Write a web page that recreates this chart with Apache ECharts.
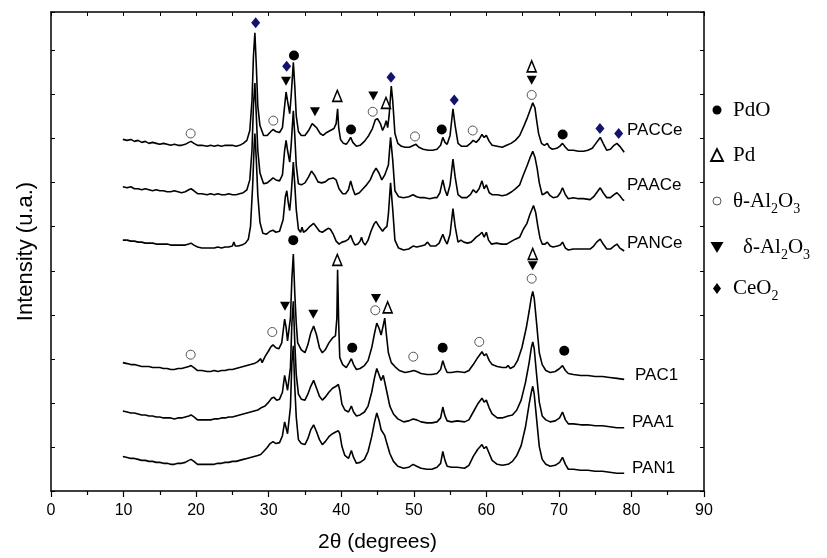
<!DOCTYPE html>
<html>
<head>
<meta charset="utf-8">
<script src="https://cdn.jsdelivr.net/npm/echarts@6/dist/echarts.min.js"></script>
<style>html,body{margin:0;padding:0;background:#fff}#c{width:827px;height:558px}</style>
</head>
<body>
<div id="c"></div>
<script>
// x tick labels (2θ, degrees)
var xTicks = [0,10,20,30,40,50,60,70,80,90];
var sampleNames = ['PACCe','PAACe','PANCe','PAC1','PAA1','PAN1'];

// Diffractograms: [2θ, intensity (a.u., stacked as plotted)]
var PACCe = [[9.9,356],[10.5,355],[11,356],[11.5,354],[12,355],[12.5,353],[13,354],[13.5,352],[14,353],[14.5,352],[15,351],[15.5,352],[16,351],[16.5,350],[17,351],[17.5,350],[18,350],[18.5,351],[19,353],[19.3,354],[19.7,352],[20.2,350],[20.8,350],[21.5,349],[22,350],[22.5,349],[23,350],[23.5,349],[24,350],[24.5,350],[25,350],[25.5,349],[26,350],[26.5,352],[27,355],[27.4,365],[27.7,395],[27.9,440],[28.1,464],[28.3,430],[28.5,390],[28.8,370],[29.3,360],[29.8,360],[30.3,364],[30.6,366],[31,364],[31.5,363],[31.9,368],[32.2,390],[32.4,404],[32.6,395],[32.9,382],[33.1,400],[33.4,434],[33.6,410],[33.8,380],[34.1,364],[34.5,360],[35,360],[35.5,365],[36,372],[36.2,373],[36.6,368],[37.1,362],[37.5,360],[38,363],[38.5,365],[39,367],[39.3,372],[39.5,387],[39.65,368],[39.9,356],[40.3,352],[40.7,351],[41,354],[41.3,358],[41.6,353],[42.1,349],[42.6,350],[43.2,354],[43.8,360],[44.3,367],[44.7,376],[45,377],[45.4,372],[45.7,365],[46,370],[46.2,375],[46.4,368],[46.6,380],[46.9,410],[47.1,395],[47.4,362],[47.8,352],[48.3,349],[48.8,348],[49.4,348],[50,350],[50.3,351],[50.7,348],[51.3,346],[52,345],[52.6,345],[53.2,346],[53.7,350],[54,358],[54.3,353],[54.6,351],[55,360],[55.4,387],[55.7,370],[56.1,352],[56.6,349],[57.3,349],[57.8,352],[58.2,355],[58.6,353],[59,356],[59.4,361],[59.7,358],[60,360],[60.4,354],[60.8,350],[61.5,349],[62.2,348],[62.8,350],[63.4,352],[64,355],[64.6,360],[65.2,370],[65.6,377],[66,385],[66.4,393],[66.7,388],[66.9,377],[67.2,362],[67.6,352],[68,350],[68.4,352],[68.7,348],[69.1,346],[69.7,347],[70.1,349],[70.5,352],[70.9,348],[71.3,345],[72,345],[72.7,344],[73.4,344],[74,345],[74.6,347],[75.1,352],[75.7,358],[76.1,352],[76.6,345],[77.1,346],[77.6,350],[78,352],[78.4,349],[78.8,345],[79,343]];
var PAACe = [[9.9,308],[10.5,307],[11,308],[11.5,306],[12,306],[12.5,305],[13,306],[13.5,305],[14,304],[14.5,305],[15,304],[15.5,304],[16,303],[16.5,303],[17,304],[17.5,303],[18,302],[18.5,303],[19,305],[19.3,306],[19.7,304],[20.2,301],[20.8,301],[21.5,300],[22,301],[22.5,300],[23,301],[23.5,300],[24,300],[24.5,301],[25,300],[25.5,300],[26,301],[26.5,302],[27,305],[27.4,315],[27.7,345],[27.9,390],[28.1,413],[28.3,380],[28.5,345],[28.8,322],[29.3,311],[29.8,312],[30.3,315],[30.6,317],[31,315],[31.5,314],[31.9,320],[32.2,345],[32.4,355],[32.6,345],[32.9,333],[33.1,350],[33.4,385],[33.6,360],[33.8,330],[34.1,311],[34.5,310],[35,312],[35.5,318],[35.9,324],[36.3,320],[36.8,313],[37.3,312],[37.8,313],[38.3,316],[38.9,317],[39.3,315],[39.7,306],[40.2,301],[40.6,301],[41,305],[41.3,314],[41.6,306],[41.9,300],[42.5,302],[43,306],[43.5,310],[44,315],[44.4,322],[44.8,327],[45.2,322],[45.6,315],[46,320],[46.2,318],[46.5,330],[46.8,358],[47.1,335],[47.4,304],[47.9,298],[48.6,297],[49.3,298],[49.9,300],[50.4,298],[50.9,297],[51.5,297],[52.2,296],[52.8,297],[53.2,297],[53.6,302],[54,315],[54.3,305],[54.6,299],[55,310],[55.4,336],[55.7,318],[56.1,300],[56.6,297],[57.3,297],[57.8,300],[58.2,305],[58.6,302],[59,306],[59.4,314],[59.7,306],[60,310],[60.4,302],[60.8,300],[61.5,300],[62.2,299],[62.8,300],[63.5,303],[64,306],[64.6,310],[65.1,320],[65.6,329],[66,337],[66.4,344],[66.7,338],[67,327],[67.3,312],[67.7,300],[68,301],[68.4,303],[68.8,299],[69.2,297],[69.8,298],[70.2,302],[70.5,307],[70.9,300],[71.3,296],[72,297],[72.7,296],[73.4,296],[74.3,295],[74.8,298],[75.2,302],[75.7,307],[76.1,302],[76.6,297],[77.1,297],[77.6,300],[78,302],[78.4,299],[78.8,295],[79,294]];
var PANCe = [[9.9,254],[10.5,254],[11,253],[11.5,253],[12,252],[12.5,252],[13,251],[13.5,251],[14,251],[14.5,250],[15,250],[15.5,250],[16,250],[16.5,249],[17,249],[17.5,249],[18,249],[18.5,249],[19,250],[19.3,251],[19.7,249],[20.2,247],[20.8,246],[21.5,246],[22,246],[22.5,246],[23,247],[23.5,246],[24,247],[24.5,247],[25,248],[25.2,252],[25.4,248],[25.8,248],[26.3,249],[26.8,251],[27.2,255],[27.5,268],[27.8,310],[28,350],[28.1,362],[28.3,335],[28.5,300],[28.8,272],[29.2,261],[29.7,260],[30.2,263],[30.6,264],[31,262],[31.5,263],[32,275],[32.3,298],[32.5,304],[32.7,292],[32.9,284],[33.1,300],[33.4,333],[33.6,310],[33.8,285],[34.1,265],[34.4,262],[34.6,267],[34.8,262],[35.2,264],[35.7,268],[36.2,271],[36.6,267],[37,263],[37.4,262],[37.8,264],[38.2,266],[38.5,265],[38.9,260],[39.3,253],[39.7,250],[40.1,252],[40.6,253],[41,255],[41.3,259],[41.6,253],[41.9,249],[42.3,250],[42.6,253],[42.8,257],[43,252],[43.3,249],[43.7,254],[44.1,263],[44.5,270],[44.8,273],[45.2,268],[45.7,263],[46,266],[46.3,268],[46.5,280],[46.8,312],[47.1,285],[47.4,254],[47.9,246],[48.6,244],[49.3,245],[49.9,248],[50.4,247],[51,248],[51.5,249],[51.9,252],[52.3,248],[53,248],[53.5,251],[54,260],[54.3,254],[54.6,250],[55,260],[55.4,286],[55.7,268],[56.1,252],[56.5,254],[56.7,256],[56.9,252],[57.4,251],[57.9,252],[58.2,254],[58.6,257],[59,259],[59.4,262],[59.7,257],[60,262],[60.3,254],[60.7,250],[61.4,251],[62.1,250],[62.8,250],[63.5,253],[64,255],[64.6,257],[65.1,265],[65.6,271],[66,280],[66.5,289],[66.8,282],[67.1,268],[67.4,256],[67.7,250],[68.1,250],[68.4,252],[68.8,248],[69.2,247],[69.8,248],[70.2,249],[70.5,252],[70.9,246],[71.3,244],[72,245],[72.7,245],[73.4,245],[74.3,245],[74.8,248],[75.2,252],[75.7,255],[76.1,250],[76.6,245],[77.1,245],[77.6,248],[78,250],[78.4,246],[78.8,244],[79,243]];
var PAC1 = [[9.9,130],[10.5,129],[11,128],[11.5,128],[12,127],[12.5,126],[13,126],[13.5,126],[14,125],[14.5,125],[15,125],[15.5,124],[16,124],[16.5,123],[17,123],[17.5,124],[18,124],[18.5,125],[19,126],[19.3,127],[19.7,125],[20.2,122],[20.8,122],[21.5,121],[22,121],[22.5,122],[23,121],[23.5,122],[24,122],[24.5,123],[25,123],[25.5,124],[26,125],[26.5,126],[27,127],[27.5,128],[28,129],[28.5,131],[28.9,134],[29.1,130],[29.5,136],[30,142],[30.3,146],[30.6,148],[31,145],[31.4,144],[31.8,150],[32,162],[32.2,174],[32.4,166],[32.6,152],[32.8,150],[33,175],[33.2,215],[33.4,240],[33.6,200],[33.8,170],[34,150],[34.5,143],[35,140],[35.4,148],[35.8,160],[36.2,167],[36.6,158],[37,145],[37.4,140],[37.8,143],[38.3,150],[38.8,155],[39.2,157],[39.4,175],[39.5,224],[39.65,170],[39.8,135],[40.2,128],[40.7,125],[41.1,130],[41.4,134],[41.7,128],[42.1,123],[42.6,124],[43.2,127],[43.7,132],[44.2,145],[44.6,160],[44.9,170],[45.2,165],[45.5,158],[45.8,168],[46,175],[46.2,160],[46.5,140],[46.9,130],[47.4,126],[48,122],[48.8,120],[49.5,121],[50,122],[50.4,121],[51,119],[51.8,118],[52.5,118],[53.2,119],[53.7,123],[54,132],[54.3,125],[54.6,120],[55.2,120],[56,121],[57,120],[57.6,122],[58.2,128],[58.8,135],[59.4,141],[59.7,137],[60,139],[60.4,132],[60.8,128],[61.5,126],[62.2,125],[62.7,125],[63,127],[63.3,124],[63.8,126],[64.3,132],[64.9,145],[65.5,165],[65.9,182],[66.2,196],[66.4,202],[66.6,195],[66.9,172],[67.3,140],[67.7,128],[68.2,122],[68.8,120],[69.5,121],[70.1,124],[70.5,127],[70.9,122],[71.3,119],[72,118],[73,117],[74,117],[75,116],[76,116],[77,115],[78,114],[79,113]];
var PAA1 = [[9.9,81],[10.5,80],[11,79],[11.5,79],[12,78],[12.5,77],[13,77],[13.5,76],[14,76],[14.5,75],[15,75],[15.5,74],[16,74],[16.5,74],[17,73],[17.5,74],[18,74],[18.5,75],[19,76],[19.3,77],[19.7,75],[20.2,72],[20.8,72],[21.5,72],[22,72],[22.5,73],[23,73],[23.5,74],[24,74],[24.5,75],[25,75],[25.5,76],[26,77],[26.5,78],[27,79],[27.5,80],[28,81],[28.5,82],[28.9,84],[29.1,82],[29.5,86],[30,90],[30.4,94],[30.7,95],[31.1,92],[31.5,93],[31.9,100],[32.2,117],[32.4,110],[32.6,102],[32.8,100],[33,125],[33.2,170],[33.4,192],[33.6,150],[33.8,118],[34.1,98],[34.5,93],[35,92],[35.4,98],[35.8,106],[36.2,112],[36.6,104],[37,96],[37.4,92],[37.8,95],[38.3,100],[38.8,104],[39.3,106],[39.6,108],[39.8,102],[40.1,88],[40.5,82],[41,80],[41.4,86],[41.7,80],[42.1,76],[42.6,77],[43.2,80],[43.7,86],[44.2,100],[44.6,115],[44.9,124],[45.2,118],[45.5,112],[45.8,117],[46,115],[46.3,100],[46.7,86],[47.2,78],[47.8,73],[48.6,70],[49.3,71],[49.9,73],[50.4,72],[51,70],[51.8,69],[52.5,69],[53.2,70],[53.7,74],[54,85],[54.3,76],[54.6,71],[55.2,70],[56,71],[57,70],[57.6,72],[58.2,80],[58.8,88],[59.4,94],[59.7,90],[60,92],[60.4,84],[60.8,78],[61.5,74],[62.2,74],[63,76],[63.6,77],[64.2,82],[64.8,92],[65.4,110],[65.9,130],[66.2,145],[66.4,151],[66.6,144],[66.9,120],[67.3,90],[67.7,76],[68.2,72],[68.8,70],[69.5,71],[70.1,74],[70.5,80],[70.9,72],[71.3,68],[72,68],[73,67],[74,67],[75,66],[76,66],[77,65],[78,64],[79,64]];
var PAN1 = [[9.9,35],[10.5,34],[11,33],[11.5,33],[12,32],[12.5,31],[13,31],[13.5,30],[14,30],[14.5,29],[15,29],[15.5,28],[16,28],[16.5,27],[17,27],[17.5,28],[18,28],[18.5,29],[19,31],[19.3,32],[19.7,30],[20.2,27],[20.8,27],[21.5,27],[22,27],[22.5,27],[23,28],[23.5,28],[24,29],[24.5,29],[25,30],[25.5,30],[26,31],[26.5,32],[27,33],[27.5,34],[28,35],[28.5,36],[28.9,37],[29.3,40],[29.8,44],[30.2,48],[30.6,50],[31,48],[31.5,49],[31.9,56],[32.2,70],[32.4,64],[32.6,58],[32.8,57],[33,85],[33.2,130],[33.4,147],[33.6,105],[33.8,75],[34.1,52],[34.5,48],[35,47],[35.4,53],[35.8,62],[36.2,67],[36.6,60],[37,52],[37.4,47],[37.8,50],[38.3,55],[38.8,58],[39.3,60],[39.6,61],[39.8,58],[40.1,45],[40.5,36],[41,33],[41.4,41],[41.7,34],[42.1,28],[42.6,29],[43.2,32],[43.7,40],[44.2,55],[44.6,70],[44.9,79],[45.2,72],[45.5,62],[45.7,60],[46,56],[46.3,48],[46.7,38],[47.2,30],[47.8,25],[48.6,23],[49.3,24],[49.9,27],[50.4,25],[51,23],[51.8,22],[52.5,22],[53.2,24],[53.7,28],[54,40],[54.3,31],[54.6,25],[55.2,24],[56,24],[57,23],[57.6,26],[58.2,35],[58.8,42],[59.4,47],[59.7,43],[60,45],[60.4,38],[60.8,31],[61.5,27],[62.2,26],[63,27],[63.6,30],[64.2,36],[64.8,46],[65.4,65],[65.9,88],[66.2,100],[66.4,106],[66.6,98],[66.9,75],[67.3,45],[67.7,32],[68.2,27],[68.8,25],[69.5,26],[70.1,29],[70.5,34],[70.9,27],[71.3,22],[72,22],[73,21],[74,21],[75,20],[76,20],[77,19],[78,18],[79,18]];

// Phase identification markers: [2θ, height]
var markPdO = [[33.49,441],[41.35,366],[53.85,366],[70.52,361],[33.39,254],[41.52,145],[53.98,145],[70.74,142]];
var markPd = [[39.46,400],[46.17,393],[66.25,430],[39.46,234],[46.4,186],[66.39,240]];
var markTheta = [[19.25,362],[30.64,375],[44.34,384],[50.17,359],[58.12,365],[66.25,401],[19.25,138],[30.5,161],[44.69,183],[49.93,136],[59.03,151],[66.25,215]];
var markDelta = [[32.39,415],[36.38,384],[44.42,400],[66.25,416],[32.25,187],[36.15,179],[44.79,195],[66.39,228]];
var markCeO2 = [[28.21,474],[32.48,430],[46.86,419],[55.58,396],[75.66,367],[78.24,362]];

var traces = [PACCe, PAACe, PANCe, PAC1, PAA1, PAN1];

var chart = echarts.init(document.getElementById('c'), null, {renderer:'canvas'});
var sans = 'Liberation Sans, Arial, sans-serif';
var serif = 'Liberation Serif, Times New Roman, serif';

var series = traces.map(function(d, i){
  return {name: sampleNames[i], type:'line', data:d, showSymbol:false, symbol:'none',
    lineStyle:{color:'#000', width:1.6}, animation:false, z:2};
});
function sc(data, opt){
  var s = {type:'scatter', data:data, z:5, animation:false, silent:true};
  for (var k in opt) s[k] = opt[k];
  s.itemStyle.opacity = 1;
  return s;
}
series.push(sc(markPdO, {symbol:'circle', symbolSize:10, itemStyle:{color:'#000'}}));
series.push(sc(markPd, {symbol:'triangle', symbolSize:[9,11], itemStyle:{color:'#fff', borderColor:'#000', borderWidth:1.6}}));
series.push(sc(markTheta, {symbol:'circle', symbolSize:9, itemStyle:{color:'#fff', borderColor:'#555', borderWidth:1}}));
series.push(sc(markDelta, {symbol:'triangle', symbolRotate:180, symbolSize:[10,9], itemStyle:{color:'#000'}}));
series.push(sc(markCeO2, {symbol:'diamond', symbolSize:[9,11], itemStyle:{color:'#13136e'}}));

var labelPos = [[627,130],[627,185],[627,243],[635,375],[632,422],[632,468]];
var graphics = sampleNames.map(function(n, i){
  return {type:'text', x:labelPos[i][0], y:labelPos[i][1], style:{text:n, font:'17px '+sans, fill:'#000', verticalAlign:'middle'}};
});

// legend
var lx = 717;
graphics.push({type:'circle', shape:{cx:lx, cy:110, r:4.5}, style:{fill:'#000'}});
graphics.push({type:'polygon', shape:{points:[[lx,149],[lx-6,161],[lx+6,161]]}, style:{fill:'none', stroke:'#000', lineWidth:1.8}});
graphics.push({type:'circle', shape:{cx:lx, cy:201, r:4}, style:{fill:'#fff', stroke:'#555', lineWidth:1}});
graphics.push({type:'polygon', shape:{points:[[lx-6.5,242],[lx+6.5,242],[lx,253]]}, style:{fill:'#000'}});
graphics.push({type:'polygon', shape:{points:[[lx,283],[lx+4,288.5],[lx,294],[lx-4,288.5]]}, style:{fill:'#000'}});
var rich = {m:{font:'21px '+serif, fill:'#000', lineHeight:30}, s:{font:'14px '+serif, fill:'#000', verticalAlign:'bottom', lineHeight:30}};
function legText(y, x, t){ graphics.push({type:'text', x:x, y:y, style:{text:t, rich:rich, verticalAlign:'middle', fill:'#000'}}); }
legText(110, 733, '{m|PdO}');
legText(155, 733, '{m|Pd}');
legText(201, 733, '{m|θ-Al}{s|2}{m|O}{s|3}');
legText(247, 743, '{m|δ-Al}{s|2}{m|O}{s|3}');
legText(288, 733, '{m|CeO}{s|2}');

var axisLine = {show:true, onZero:false, lineStyle:{color:'#000', width:1.5}};
chart.setOption({
  animation:false,
  backgroundColor:'#fff',
  grid:{left:51, right:123, top:12, bottom:61, containLabel:false},
  xAxis:[{type:'value', min:0, max:90, interval:10, position:'bottom',
      axisLine:axisLine, splitLine:{show:false},
      axisTick:{show:true, inside:false, length:6, lineStyle:{color:'#000', width:1.2}},
      minorTick:{show:true, splitNumber:2, length:4, lineStyle:{color:'#000', width:1.2}},
      axisLabel:{color:'#000', fontFamily:sans, fontSize:16, margin:12, formatter:function(v){return xTicks.indexOf(v)>=0 ? String(v) : '';}},
      name:'2θ (degrees)', nameLocation:'middle', nameGap:41, nameTextStyle:{color:'#000', fontFamily:sans, fontSize:21}},
    {type:'value', min:0, max:90, interval:5, position:'top',
      axisLine:axisLine, splitLine:{show:false},
      axisTick:{show:true, inside:true, length:4, lineStyle:{color:'#000', width:1}},
      axisLabel:{show:false}}],
  yAxis:[{type:'value', min:0, max:485, interval:44.6, position:'left',
      axisLine:axisLine, splitLine:{show:false},
      axisTick:{show:true, inside:true, length:4, lineStyle:{color:'#000', width:1}},
      axisLabel:{show:false},
      name:'Intensity (u.a.)', nameLocation:'middle', nameGap:14, nameTextStyle:{color:'#000', fontFamily:sans, fontSize:22}},
    {type:'value', min:0, max:485, interval:44.6, position:'right',
      axisLine:axisLine, splitLine:{show:false},
      axisTick:{show:true, inside:true, length:4, lineStyle:{color:'#000', width:1}},
      axisLabel:{show:false}}],
  series:series,
  graphic:graphics
});
</script>
</body>
</html>
